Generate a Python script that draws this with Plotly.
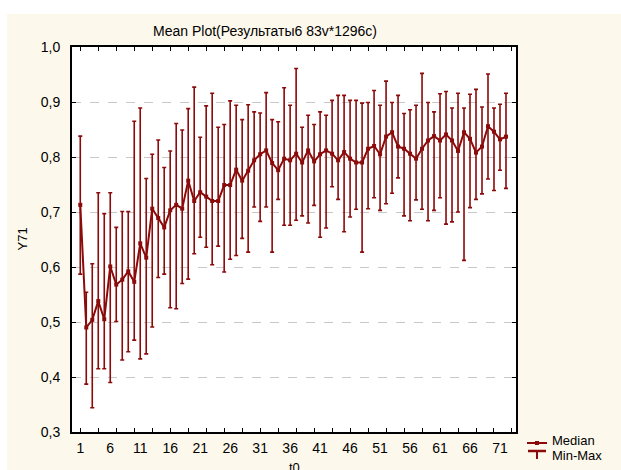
import plotly.graph_objects as go

# t0 index and per-point statistics of Y71
t0 = list(range(1, 73))

median = [
    0.713, 0.490, 0.504, 0.538, 0.505, 0.601, 0.568, 0.577, 0.592, 0.573,
    0.643, 0.617, 0.706, 0.689, 0.672, 0.703, 0.713, 0.706, 0.757, 0.720,
    0.736, 0.728, 0.720, 0.720, 0.749, 0.749, 0.777, 0.757, 0.775, 0.794,
    0.805, 0.812, 0.789, 0.776, 0.797, 0.794, 0.806, 0.790, 0.812, 0.792,
    0.805, 0.812, 0.806, 0.794, 0.809, 0.797, 0.790, 0.790, 0.815, 0.820,
    0.805, 0.837, 0.845, 0.819, 0.815, 0.806, 0.797, 0.815, 0.830, 0.838,
    0.830, 0.841, 0.830, 0.811, 0.845, 0.833, 0.808, 0.819, 0.856, 0.846,
    0.832, 0.837,
]

y_max = [
    0.838, 0.554, 0.606, 0.735, 0.697, 0.735, 0.672, 0.701, 0.701, 0.865,
    0.889, 0.761, 0.805, 0.831, 0.781, 0.811, 0.861, 0.849, 0.888, 0.927,
    0.836, 0.893, 0.916, 0.854, 0.859, 0.902, 0.894, 0.868, 0.895, 0.882,
    0.880, 0.917, 0.868, 0.864, 0.926, 0.894, 0.961, 0.854, 0.876, 0.859,
    0.882, 0.876, 0.903, 0.912, 0.912, 0.903, 0.903, 0.898, 0.899, 0.921,
    0.894, 0.938, 0.899, 0.912, 0.879, 0.886, 0.894, 0.952, 0.899, 0.882,
    0.915, 0.919, 0.889, 0.916, 0.889, 0.914, 0.923, 0.891, 0.951, 0.889,
    0.896, 0.916,
]

y_min = [
    0.587, 0.387, 0.344, 0.415, 0.415, 0.390, 0.501, 0.431, 0.446, 0.467,
    0.433, 0.442, 0.491, 0.581, 0.587, 0.526, 0.524, 0.570, 0.578, 0.624,
    0.654, 0.636, 0.604, 0.638, 0.591, 0.614, 0.621, 0.652, 0.627, 0.709,
    0.683, 0.709, 0.627, 0.723, 0.676, 0.676, 0.685, 0.693, 0.680, 0.712,
    0.654, 0.671, 0.746, 0.723, 0.664, 0.691, 0.705, 0.627, 0.706, 0.726,
    0.703, 0.715, 0.734, 0.762, 0.693, 0.684, 0.722, 0.705, 0.684, 0.703,
    0.726, 0.678, 0.682, 0.700, 0.612, 0.708, 0.723, 0.733, 0.760, 0.739,
    0.776, 0.743,
]

x_tick_labels = [1, 6, 11, 16, 21, 26, 31, 36, 41, 46, 51, 56, 61, 66, 71]
x_tick_marks = list(range(1, 74, 3))
y_ticks = [0.3, 0.4, 0.5, 0.6, 0.7, 0.8, 0.9, 1.0]

RED = "#8b0a0a"
CREAM = "#fdf8ec"
FONT = "Liberation Sans, Arial, sans-serif"
X_RANGE = [-0.38, 73.67]

# plot area in pixels: left 72, right 516, top 47, bottom 432
L, R, T, B = 72, 105, 47, 38
PW, PH = 621 - L - R, 470 - T - B


def px(xp):
    return (xp - L) / PW


def py(yp):
    return (470 - B - yp) / PH


err_plus = [hi - m for hi, m in zip(y_max, median)]
err_minus = [m - lo for lo, m in zip(y_min, median)]

fig = go.Figure()
fig.add_trace(go.Scatter(
    x=t0, y=median, mode="lines+markers", name="Median",
    line=dict(color=RED, width=2),
    marker=dict(symbol="square", size=4, color=RED),
    error_y=dict(type="data", symmetric=False, array=err_plus,
                 arrayminus=err_minus, color=RED, thickness=1.6, width=2),
    showlegend=False,
))
# carrier for the labelled bottom axis
fig.add_trace(go.Scatter(x=[1], y=[0.5], xaxis="x2", mode="markers",
                         marker=dict(opacity=0), hoverinfo="skip",
                         showlegend=False))

shapes = [
    # white strips round the cream page
    dict(type="rect", xref="paper", yref="paper", x0=px(-10), x1=px(640),
         y0=py(14), y1=py(-10), fillcolor="white", line_width=0, layer="below"),
    dict(type="rect", xref="paper", yref="paper", x0=px(-10), x1=px(7),
         y0=py(480), y1=py(-10), fillcolor="white", line_width=0, layer="below"),
    # legend glyphs
    dict(type="line", xref="paper", yref="paper", x0=px(527), x1=px(547),
         y0=py(443), y1=py(443), line=dict(color=RED, width=2)),
    dict(type="rect", xref="paper", yref="paper", x0=px(535), x1=px(539),
         y0=py(445), y1=py(441), fillcolor=RED, line_width=0),
    dict(type="line", xref="paper", yref="paper", x0=px(528), x1=px(546),
         y0=py(451), y1=py(451), line=dict(color=RED, width=2.5)),
    dict(type="line", xref="paper", yref="paper", x0=px(537), x1=px(537),
         y0=py(451), y1=py(459), line=dict(color=RED, width=2)),
]

annotations = [
    dict(text="Median", xref="paper", yref="paper", x=px(550), y=py(441),
         xanchor="left", yanchor="middle", showarrow=False,
         font=dict(family=FONT, size=13, color="black")),
    dict(text="Min-Max", xref="paper", yref="paper", x=px(550), y=py(455.5),
         xanchor="left", yanchor="middle", showarrow=False,
         font=dict(family=FONT, size=13, color="black")),
    dict(text="Y71", xref="paper", yref="paper", x=px(22), y=0.5,
         textangle=-90, xanchor="center", yanchor="middle", showarrow=False,
         font=dict(family=FONT, size=13, color="black")),
    dict(text="t0", xref="paper", yref="paper", x=0.5, y=py(458),
         xanchor="center", yanchor="top", showarrow=False,
         font=dict(family=FONT, size=13, color="black")),
]

fig.update_layout(
    width=621, height=470,
    margin=dict(l=L, r=R, t=T, b=B, autoexpand=False),
    paper_bgcolor=CREAM, plot_bgcolor="white",
    separators=",.",
    font=dict(family=FONT, size=14, color="black"),
    title=dict(text="Mean Plot(Результаты6 83v*1296c)",
               xref="container", yref="container",
               x=265 / 621, y=1 - 31 / 470, xanchor="center", yanchor="middle",
               font=dict(family=FONT, size=14, color="black")),
    xaxis=dict(range=X_RANGE, tickmode="array", tickvals=x_tick_marks,
               showticklabels=False, ticks="inside", ticklen=4, tickwidth=1,
               tickcolor="black", showline=True, linecolor="black",
               linewidth=2, mirror="ticks", showgrid=False, zeroline=False),
    xaxis2=dict(range=X_RANGE, overlaying="x", anchor="y", side="bottom",
                tickmode="array", tickvals=x_tick_labels,
                ticktext=[str(v) for v in x_tick_labels], ticks="",
                ticklabelstandoff=6, showline=False, showgrid=False,
                zeroline=False, tickfont=dict(family=FONT, size=14)),
    yaxis=dict(range=[0.3, 1.0], tickmode="array", tickvals=y_ticks,
               tickformat=".1f", ticks="inside", ticklen=4, tickwidth=1,
               tickcolor="black", showline=True, linecolor="black",
               linewidth=2, mirror="ticks", showgrid=True,
               gridcolor="#c8c8c8", gridwidth=1, griddash="dash",
               zeroline=False, ticklabelstandoff=7,
               tickfont=dict(family=FONT, size=14)),
    shapes=shapes,
    annotations=annotations,
)

fig.write_html("out.html")
